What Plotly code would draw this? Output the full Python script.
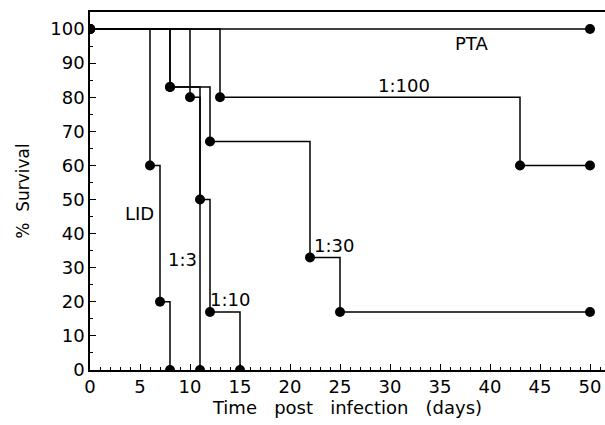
import plotly.graph_objects as go

# Data: survival curves (days, % survival)
pta_x = [0, 50]
pta_y = [100, 100]
r100_x = [0, 13, 43, 50]
r100_y = [100, 80, 60, 60]
r30_x = [0, 8, 12, 22, 25, 50]
r30_y = [100, 83, 67, 33, 17, 17]
r10_x = [0, 10, 11, 12, 15]
r10_y = [100, 80, 50, 17, 0]
r3_x = [0, 8, 11]
r3_y = [100, 83, 0]
lid_x = [0, 6, 7, 8]
lid_y = [100, 60, 20, 0]

labels = ["PTA", "1:100", "1:30", "1:10", "1:3", "LID"]
label_x = [38.1, 31.4, 24.4, 14.0, 9.25, 4.9]
label_y = [95.9, 83.3, 36.4, 20.8, 32.3, 46.0]

series = [(pta_x, pta_y), (r100_x, r100_y), (r30_x, r30_y),
          (r10_x, r10_y), (r3_x, r3_y), (lid_x, lid_y)]

fig = go.Figure()
for (xs, ys), name in zip(series, labels):
    fig.add_trace(go.Scatter(
        x=xs, y=ys, name=name, mode="lines+markers",
        line=dict(shape="hv", color="black", width=1.5),
        marker=dict(color="black", size=10),
        cliponaxis=True, showlegend=False))

font = dict(family="DejaVu Sans", size=18, color="black")
for t, lx, ly in zip(labels, label_x, label_y):
    fig.add_annotation(x=lx, y=ly, text=t, showarrow=False,
                       font=dict(family="DejaVu Sans", size=18, color="black"))

fig.update_layout(
    width=605, height=425,
    margin=dict(l=90, r=0, t=12, b=55),
    plot_bgcolor="white", paper_bgcolor="white",
    font=font,
)
fig.update_xaxes(
    range=[0, 51.5], tickvals=list(range(0, 55, 5)),
    ticks="inside", ticklen=6, tickwidth=1.2, tickcolor="black",
    minor=dict(dtick=1, ticks="inside", ticklen=3, tickcolor="black"),
    showline=True, linecolor="black", linewidth=1.5, mirror=True,
    showgrid=False, zeroline=False,
    tickfont=font,
    title=dict(text="Time   post   infection   (days)", font=dict(family="DejaVu Sans", size=18, color="black"), standoff=0),
)
fig.update_yaxes(
    range=[0, 105], tickvals=list(range(0, 110, 10)),
    ticks="inside", ticklen=6, tickwidth=1.2, tickcolor="black",
    minor=dict(dtick=5, ticks="inside", ticklen=3, tickcolor="black"),
    showline=True, linecolor="black", linewidth=1.5,
    showgrid=False, zeroline=False,
    tickfont=font,
    title=dict(text="%  Survival", font=dict(family="DejaVu Sans", size=17, color="black"), standoff=16),
)
fig.write_html("out.html")
